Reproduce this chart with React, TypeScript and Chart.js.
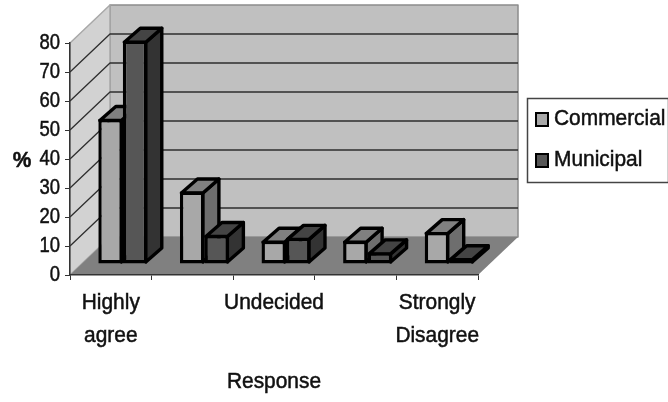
import React, { useEffect, useRef } from "react";
import { Chart, registerables } from "chart.js";

Chart.register(...registerables);

const categories: (string | string[])[] = [["Highly", "agree"], "", "Undecided", "", ["Strongly", "Disagree"]];
const commercial = [50, 25, 8, 8, 11];
const municipal = [77, 10, 9, 4, 2];
const seriesNames = ["Commercial", "Municipal"];
const yTitle = "%";
const xTitle = "Response";

const FONT = '"Liberation Sans", Arial, sans-serif';
const FONT_SIZE = 22;
const WORD_SQUEEZE = 0.95;
const DIGIT_SQUEEZE = 0.84;
const WALL_DX = 40;
const WALL_DY = 38;
const BAR_SHIFT_X = 12;
const BAR_SHIFT_Y = 11;
const BAR_DX = 16;
const BAR_DY = 14;
const BAR_LINE = 3.4;

const faces = [
  { front: "#a8a8a8", top: "#808080", side: "#6e6e6e" },
  { front: "#565656", top: "#444444", side: "#333333" },
];

function poly(ctx: CanvasRenderingContext2D, pts: number[][], fill: string, stroke?: string, width = 1) {
  ctx.beginPath();
  pts.forEach(([x, y], i) => (i ? ctx.lineTo(x, y) : ctx.moveTo(x, y)));
  ctx.closePath();
  ctx.fillStyle = fill;
  ctx.fill();
  if (stroke) {
    ctx.strokeStyle = stroke;
    ctx.lineWidth = width;
    ctx.lineJoin = "round";
    ctx.stroke();
  }
}

// All text on this chart is set in a heavy condensed cut: squeeze it around its anchor and thicken it.
function condenseText(ctx: any) {
  if (ctx.__condensed) return;
  ctx.__condensed = true;
  const fill = ctx.fillText.bind(ctx);
  const outline = ctx.strokeText.bind(ctx);
  ctx.fillText = (text: string, x: number, y: number) => {
    const squeeze = /^\d+$/.test(text) ? DIGIT_SQUEEZE : WORD_SQUEEZE;
    ctx.save();
    ctx.translate(x, y);
    ctx.scale(squeeze, 1);
    fill(text, 0, 0);
    ctx.strokeStyle = ctx.fillStyle;
    ctx.lineWidth = 0.5;
    outline(text, 0, 0);
    ctx.restore();
  };
}

// Walls, floor and receding gridlines of the 3-D box.
const boxPlugin = {
  id: "box3d",
  beforeDraw(chart: any) {
    const { ctx, chartArea: a, scales } = chart;
    const { left: l, right: r, top: t, bottom: b } = a;
    const d = WALL_DX;
    const h = WALL_DY;
    condenseText(ctx);
    ctx.save();
    poly(ctx, [[l + d, t - h], [r + d, t - h], [r + d, b - h], [l + d, b - h]], "#c0c0c0", "#8c8c8c", 1.5);
    poly(ctx, [[l, b], [l, t], [l + d, t - h], [l + d, b - h]], "#d2d2d2", "#a8a8a8", 1.5);
    poly(ctx, [[l, b], [r, b], [r + d, b - h], [l + d, b - h]], "#808080");
    ctx.strokeStyle = "#2e2e2e";
    ctx.lineWidth = 1.3;
    for (const tick of scales.y.ticks) {
      if (tick.value === 0 || tick.value === 80) continue;
      const y = scales.y.getPixelForValue(tick.value);
      ctx.beginPath();
      ctx.moveTo(l, y);
      ctx.lineTo(l + d, y - h);
      ctx.lineTo(r + d, y - h);
      ctx.stroke();
    }
    ctx.restore();
  },
  afterDraw(chart: any) {
    const { ctx, chartArea: a } = chart;
    ctx.save();
    // Horizontal axis caption for the value scale.
    ctx.fillStyle = "#111";
    ctx.font = `bold ${FONT_SIZE}px ${FONT}`;
    ctx.textAlign = "center";
    ctx.textBaseline = "middle";
    ctx.fillText(yTitle, 22, (a.top + a.bottom) / 2 + 2);

    // Legend box at the right of the plot.
    ctx.fillStyle = "#fff";
    ctx.strokeStyle = "#444";
    ctx.lineWidth = 1.5;
    ctx.fillRect(527.5, 98.5, 141, 84);
    ctx.strokeRect(527.5, 98.5, 141, 84);
    ctx.textAlign = "left";
    ctx.font = `${FONT_SIZE}px ${FONT}`;
    chart.data.datasets.forEach((ds: any, i: number) => {
      const y = 119 + i * 41;
      ctx.fillStyle = ds.backgroundColor;
      ctx.strokeStyle = "#000";
      ctx.lineWidth = 2;
      ctx.fillRect(536, y - 6, 12, 13);
      ctx.strokeRect(536, y - 6, 12, 13);
      ctx.fillStyle = "#111";
      ctx.fillText(ds.label, 554, y);
    });
    ctx.restore();
  },
};

// Side and top faces go down first, left series before right; the front faces
// the library then paints are moved back to their depth inside the box.
const barDepthPlugin = {
  id: "barDepth",
  beforeDatasetsDraw(chart: any) {
    const { ctx } = chart;
    ctx.save();
    ctx.translate(BAR_SHIFT_X, -BAR_SHIFT_Y);
    chart.data.datasets.forEach((_: any, index: number) => {
      const colors = faces[index];
      for (const el of chart.getDatasetMeta(index).data) {
        const { x, y, base, width } = el.getProps(["x", "y", "base", "width"], true);
        const l = x - width / 2 + 1.5;
        const r = x + width / 2 - 1.5;
        const yt = y + 1.5;
        const yb = base - 1.5;
        poly(ctx, [[r, yt], [r + BAR_DX, yt - BAR_DY], [r + BAR_DX, yb - BAR_DY], [r, yb]], colors.side, "#000", BAR_LINE);
        poly(ctx, [[l, yt], [l + BAR_DX, yt - BAR_DY], [r + BAR_DX, yt - BAR_DY], [r, yt]], colors.top, "#000", BAR_LINE);
      }
    });
    ctx.restore();
  },
  beforeDatasetDraw(chart: any) {
    chart.ctx.save();
    chart.ctx.translate(BAR_SHIFT_X, -BAR_SHIFT_Y);
  },
  afterDatasetDraw(chart: any) {
    chart.ctx.restore();
  },
};

export default function App() {
  const ref = useRef<HTMLCanvasElement>(null);
  useEffect(() => {
    const chart = new Chart(ref.current!, {
      type: "bar",
      data: {
        labels: categories as any,
        datasets: [
          { label: seriesNames[0], data: commercial, backgroundColor: faces[0].front },
          { label: seriesNames[1], data: municipal, backgroundColor: faces[1].front },
        ].map((d) => ({
          ...d,
          borderColor: "#000",
          borderWidth: BAR_LINE,
          borderSkipped: false,
          categoryPercentage: 0.6,
          barPercentage: 1,
        })),
      },
      options: {
        responsive: false,
        animation: false,
        layout: { padding: { top: 43, right: 190, left: 0, bottom: 0 } },
        plugins: { legend: { display: false }, tooltip: { enabled: false } },
        scales: {
          x: {
            afterFit: (s: any) => {
              s.height = 127;
            },
            border: { color: "#333", width: 1.5 },
            grid: { drawOnChartArea: false, color: "#333", tickLength: 5, offset: true },
            ticks: {
              autoSkip: false,
              maxRotation: 0,
              padding: 6,
              color: "#111",
              font: { family: FONT, size: FONT_SIZE, lineHeight: 1.5 },
            },
            title: {
              display: true,
              text: xTitle,
              color: "#111",
              font: { family: FONT, size: FONT_SIZE },
              padding: { top: 4, bottom: 7 },
            },
          },
          y: {
            min: 0,
            max: 80,
            afterFit: (s: any) => {
              s.width = 70;
            },
            border: { color: "#333", width: 1.5 },
            grid: { drawOnChartArea: false, color: "#333", tickLength: 5 },
            ticks: {
              stepSize: 10,
              autoSkip: false,
              padding: 5,
              color: "#111",
              font: { family: FONT, size: FONT_SIZE },
            },
          },
        },
      },
      plugins: [boxPlugin, barDepthPlugin],
    } as any);
    return () => chart.destroy();
  }, []);
  return (
    <div style={{ position: "absolute", left: 0, top: 0, background: "#fff" }}>
      <canvas ref={ref} width={668} height={402} style={{ display: "block" }} />
    </div>
  );
}
